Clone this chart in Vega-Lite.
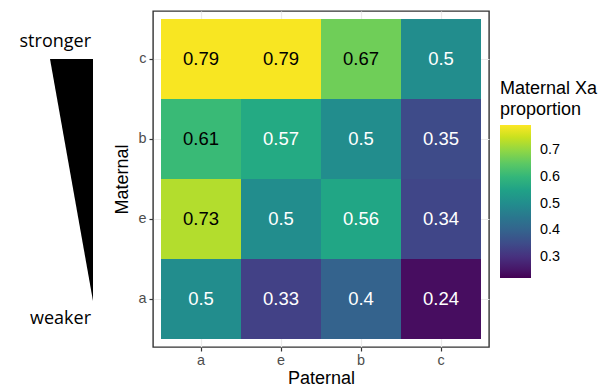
{
  "$schema": "https://vega.github.io/schema/vega-lite/v6.json",
  "padding": {"left": 0, "top": 10, "right": 5, "bottom": 0},
  "background": "white",
  "config": {"font": "Liberation Sans"},
  "bounds": "flush",
  "spacing": 60,
  "hconcat": [
    {
      "width": 93,
      "height": 336,
      "view": {"stroke": null},
      "layer": [
        {
          "data": {"values": [{"side": 0, "top": 1, "bottom": 1}, {"side": 1, "top": 1, "bottom": 0}]},
          "mark": {"type": "area", "color": "black", "opacity": 1},
          "encoding": {
            "x": {"field": "side", "type": "quantitative", "scale": {"domain": [-1.163, 1], "nice": false, "zero": false}, "axis": null},
            "y": {"field": "top", "type": "quantitative", "stack": null, "scale": {"domain": [-0.19, 1.198], "nice": false, "zero": false}, "axis": null},
            "y2": {"field": "bottom"}
          }
        },
        {
          "data": {"values": [{"label": "stronger", "side": 1, "level": 1.07}, {"label": "weaker", "side": 1, "level": -0.074}]},
          "mark": {"type": "text", "align": "right", "baseline": "middle", "font": "Open Sans", "fontSize": 18, "dx": -2, "color": "black"},
          "encoding": {
            "x": {"field": "side", "type": "quantitative", "axis": null},
            "y": {"field": "level", "type": "quantitative", "axis": null},
            "text": {"field": "label"}
          }
        }
      ]
    },
    {
      "width": 336,
      "height": 336,
      "view": {"stroke": "#333333", "strokeWidth": 1.4},
      "data": {"values": [
        {"Maternal": "c", "Paternal": "a", "prop": 0.79},
        {"Maternal": "c", "Paternal": "e", "prop": 0.79},
        {"Maternal": "c", "Paternal": "b", "prop": 0.67},
        {"Maternal": "c", "Paternal": "c", "prop": 0.5},
        {"Maternal": "b", "Paternal": "a", "prop": 0.61},
        {"Maternal": "b", "Paternal": "e", "prop": 0.57},
        {"Maternal": "b", "Paternal": "b", "prop": 0.5},
        {"Maternal": "b", "Paternal": "c", "prop": 0.35},
        {"Maternal": "e", "Paternal": "a", "prop": 0.73},
        {"Maternal": "e", "Paternal": "e", "prop": 0.5},
        {"Maternal": "e", "Paternal": "b", "prop": 0.56},
        {"Maternal": "e", "Paternal": "c", "prop": 0.34},
        {"Maternal": "a", "Paternal": "a", "prop": 0.5},
        {"Maternal": "a", "Paternal": "e", "prop": 0.33},
        {"Maternal": "a", "Paternal": "b", "prop": 0.4},
        {"Maternal": "a", "Paternal": "c", "prop": 0.24}
      ]},
      "encoding": {
        "x": {
          "field": "Paternal", "type": "nominal", "sort": ["a", "e", "b", "c"],
          "scale": {"paddingInner": 0, "paddingOuter": 0.1},
          "axis": {"title": "Paternal", "titleFontSize": 18, "titleColor": "black", "titleFontWeight": "normal", "titlePadding": 3,
                   "labelFontSize": 14.4, "labelColor": "#4d4d4d", "labelAngle": 0, "labelPadding": 2,
                   "tickColor": "#333333", "tickSize": 4, "tickWidth": 1.2, "domain": false, "zindex": 0,
                   "grid": true, "gridColor": "#ebebeb", "gridWidth": 1.2, "bandPosition": 0.5}
        },
        "y": {
          "field": "Maternal", "type": "nominal", "sort": ["c", "b", "e", "a"],
          "scale": {"paddingInner": 0, "paddingOuter": 0.1},
          "axis": {"title": "Maternal", "titleFontSize": 18, "titleColor": "black", "titleFontWeight": "normal", "titlePadding": 6,
                   "labelFontSize": 14.4, "labelColor": "#4d4d4d", "labelPadding": 3,
                   "tickColor": "#333333", "tickSize": 4, "tickWidth": 1.2, "domain": false, "zindex": 0,
                   "grid": true, "gridColor": "#ebebeb", "gridWidth": 1.2, "bandPosition": 0.5}
        }
      },
      "layer": [
        {
          "mark": {"type": "rect"},
          "encoding": {
            "color": {
              "field": "prop", "type": "quantitative",
              "scale": {"scheme": "viridis", "domain": [0.222, 0.795]},
              "legend": {
                "title": ["Maternal Xa", "proportion"], "orient": "none", "legendX": 500, "legendY": 69,
                "direction": "vertical", "gradientLength": 153, "gradientThickness": 31, "gradientStrokeWidth": 0,
                "titleFontSize": 18, "titleFontWeight": "normal", "titleColor": "black", "titlePadding": 6, "titleLineHeight": 21,
                "labelFontSize": 14.4, "labelColor": "black", "labelOffset": 9,
                "values": [0.3, 0.4, 0.5, 0.6, 0.7]
              }
            }
          }
        },
        {
          "mark": {"type": "text", "fontSize": 18.5},
          "encoding": {
            "text": {"field": "prop", "type": "quantitative", "format": ".2~f"},
            "color": {"condition": {"test": "datum.prop > 0.6", "value": "black"}, "value": "white"}
          }
        }
      ]
    }
  ]
}
